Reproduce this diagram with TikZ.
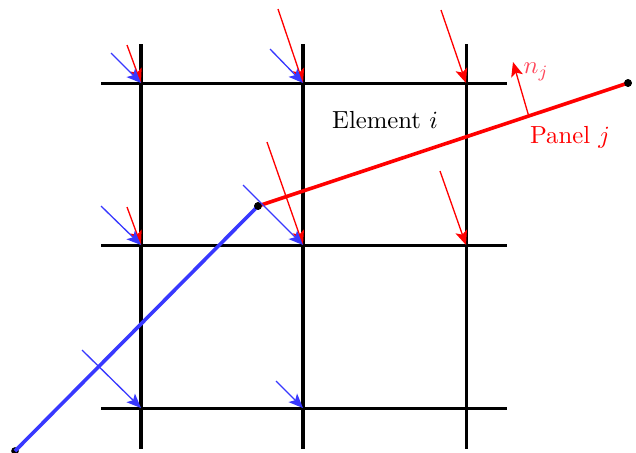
\documentclass[tikz,border=0pt]{standalone}
\usetikzlibrary{arrows.meta}
\definecolor{pblue}{RGB}{56,56,255}
\definecolor{nred}{RGB}{255,70,90}
\tikzset{
  gridv/.style={draw=black,line width=1.65pt},
  gridh/.style={draw=black,line width=1.25pt},
  ray/.style={line width=0.55pt,-{Stealth[length=6pt,width=5pt,inset=1.4pt]}},
  redray/.style={ray,draw=red},
  blueray/.style={ray,draw=pblue},
  bluepanel/.style={draw=pblue,line width=1.5pt},
  redpanel/.style={draw=red,line width=1.5pt},
  endpoint/.style={circle,fill=black,inner sep=0pt,minimum size=3.2pt},
  lab/.style={inner sep=0pt,scale=1.03}
}
\begin{document}
\begin{tikzpicture}[x=0.4167pt,y=-0.4167pt]
\useasboundingbox (0,0) rectangle (636,452);
\clip (0,0) rectangle (636,452);
% grid coordinates
\foreach \n/\x in {a/141,b/303,c/466}{
  \coordinate (\n t) at (\x,44);
  \coordinate (\n b) at (\x,449);
}
\foreach \n/\y in {p/83,q/245,r/408}{
  \coordinate (\n l) at (101,\y);
  \coordinate (\n r) at (507,\y);
}
\draw[gridv] (at) -- (ab);
\draw[gridv] (bt) -- (bb);
\draw[line width=1.25pt] (ct) -- (cb);
\draw[gridh] (pl) -- (pr);
\draw[gridh] (ql) -- (qr);
\draw[gridh] (rl) -- (rr);
% grid points
\coordinate (ap) at (141,83);
\coordinate (bp) at (303,83);
\coordinate (cp) at (466,83);
\coordinate (aq) at (141,245);
\coordinate (bq) at (303,245);
\coordinate (cq) at (466,245);
\coordinate (ar) at (141,408);
\coordinate (br) at (303,408);
% panels
\node[endpoint] (s0) at (15,451) {};
\node[endpoint] (s1) at (258,206) {};
\node[endpoint] (s2) at (628,83) {};
\draw[bluepanel] (s0.center) -- (s1.center);
\draw[redpanel] (s1.center) -- (s2.center);
\node[endpoint] at (s1) {};
\node[endpoint] at (s2) {};
% red rays
\coordinate (r1) at (127,45);
\coordinate (r2) at (278,9);
\coordinate (r3) at (441,10);
\coordinate (r4) at (267,142);
\coordinate (r5) at (127,207);
\coordinate (r6) at (440,171);
\draw[redray] (r1) -- (ap);
\draw[redray] (r2) -- (bp);
\draw[redray] (r3) -- (cp);
\draw[redray] (r4) -- (bq);
\draw[redray] (r5) -- (aq);
\draw[redray] (r6) -- (cq);
% blue rays
\coordinate (b1) at (111,53);
\coordinate (b2) at (270,49);
\coordinate (b3) at (243,185);
\coordinate (b4) at (101,206);
\coordinate (b5) at (82,350);
\coordinate (b6) at (276,381);
\draw[blueray] (b1) -- (ap);
\draw[blueray] (b2) -- (bp);
\draw[blueray] (b3) -- (bq);
\draw[blueray] (b4) -- (aq);
\draw[blueray] (b5) -- (ar);
\draw[blueray] (b6) -- (br);
% normal and labels
\coordinate (n0) at (529,117);
\coordinate (n1) at (513,62);
\draw[redray] (n0) -- (n1);
\node[lab,text=nred,anchor=west] (nl) at (523,72) {$n_j$};
\node[lab,text=red] (pl2) at (570,137) {Panel $j$};
\node[lab,text=black] (el) at (385,120) {Element $i$};
\end{tikzpicture}
\end{document}
